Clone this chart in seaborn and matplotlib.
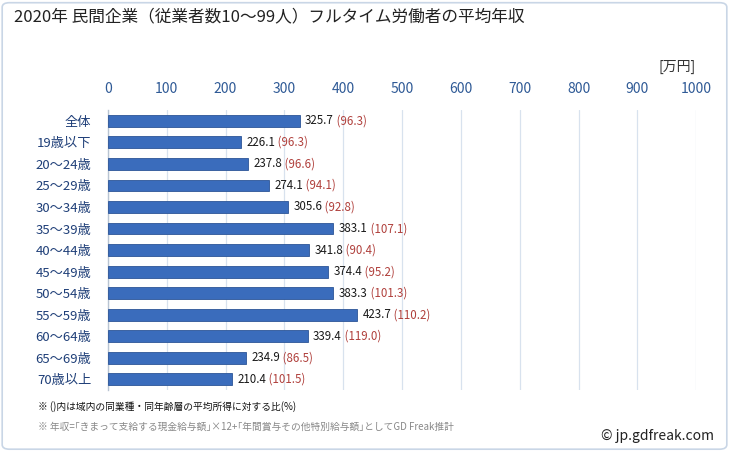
import matplotlib
matplotlib.use("Agg")
import matplotlib.pyplot as plt
import seaborn as sns
import pandas as pd
from matplotlib.patches import FancyBboxPatch

categories = ["全体", "19歳以下", "20〜24歳", "25〜29歳", "30〜34歳", "35〜39歳", "40〜44歳",
              "45〜49歳", "50〜54歳", "55〜59歳", "60〜64歳", "65〜69歳", "70歳以上"]
values = [325.7, 226.1, 237.8, 274.1, 305.6, 383.1, 341.8, 374.4, 383.3, 423.7, 339.4, 234.9, 210.4]
ratios = [96.3, 96.3, 96.6, 94.1, 92.8, 107.1, 90.4, 95.2, 101.3, 110.2, 119.0, 86.5, 101.5]
xticks = [0, 100, 200, 300, 400, 500, 600, 700, 800, 900, 1000]

sns.set_theme(style="white")
plt.rcParams['font.family'] = ['Noto Sans CJK JP', 'DejaVu Sans']

df = pd.DataFrame({"cat": categories, "val": values})

fig = plt.figure(figsize=(7.29, 4.51), dpi=100)
fig.patch.set_facecolor("white")
border = FancyBboxPatch((0.003, 0.004), 0.994, 0.99, boxstyle="round,pad=0,rounding_size=0.01",
                        transform=fig.transFigure, facecolor="white", edgecolor="#c9d6e6",
                        linewidth=1.2, zorder=-10)
fig.patches.append(border)

ax = fig.add_axes([0.148, 0.135, 0.807, 0.621])
sns.barplot(data=df, x="val", y="cat", orient="h", color="#3a6cbc", width=0.55,
            saturation=1, edgecolor="#2c5597", linewidth=0.6, ax=ax, zorder=3)

ax.set_xlim(0, 1000)
ax.set_ylim(12.5, -0.5)
ax.set_xticks(xticks)
ax.xaxis.tick_top()
ax.tick_params(axis="x", length=0, pad=10, labelsize=10, labelcolor="#2f5a96")
ax.tick_params(axis="y", length=0, pad=12, labelsize=9.5, labelcolor="#1f3f78")
ax.set_xlabel("")
ax.set_ylabel("")
ax.grid(axis="x", color="#d8e2ee", linewidth=0.9, zorder=0)
for s in ["top", "right", "bottom"]:
    ax.spines[s].set_visible(False)
ax.spines["left"].set_color("#b8c4d2")
ax.spines["left"].set_linewidth(1.0)
ax.set_facecolor("white")

for i, (v, r) in enumerate(zip(values, ratios)):
    t = ax.annotate(f"{v:.1f}", xy=(v, i), xytext=(4, 0), textcoords="offset points",
                    va="center", ha="left", fontsize=8.3, color="#1a1a1a")
    ax.annotate(f" ({r:.1f})", xy=(1, 0.5), xycoords=t, va="center", ha="left",
                fontsize=8.3, color="#b0403c")

fig.text(0.019, 0.962, "2020年 民間企業（従業者数10〜99人）フルタイム労働者の平均年収",
         fontsize=12, color="#222222", va="center", ha="left")
fig.text(0.955, 0.851, "[万円]", fontsize=10, color="#333333", va="center", ha="right")
fig.text(0.052, 0.098, "※ ()内は域内の同業種・同年齢層の平均所得に対する比(%)",
         fontsize=7, color="#111111", va="center", ha="left")
fig.text(0.052, 0.053, "※ 年収=｢きまって支給する現金給与額｣×12+｢年間賞与その他特別給与額｣としてGD Freak推計",
         fontsize=7, color="#888888", va="center", ha="left")
fig.text(0.98, 0.033, "© jp.gdfreak.com", fontsize=10, color="#222222", va="center", ha="right")

fig.savefig("out.png", dpi=100, facecolor="white")
